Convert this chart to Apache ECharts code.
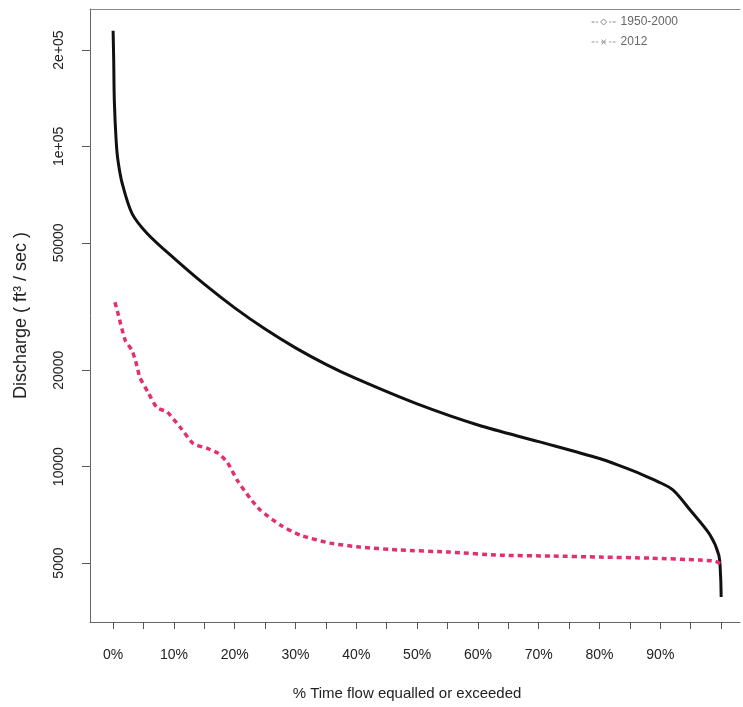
<!DOCTYPE html>
<html>
<head>
<meta charset="utf-8">
<script src="https://cdn.jsdelivr.net/npm/echarts@6/dist/echarts.min.js"></script>
<style>html,body{margin:0;padding:0;background:#fff}#c{width:743px;height:707px}</style>
</head>
<body>
<div id="c"></div>
<script>
// % time flow equalled or exceeded, discharge (ft3/sec)
const histPct = [0, 0.1, 0.2, 0.5, 0.8, 1.5, 3.1, 5.6, 10, 15, 20, 25, 30, 35, 40, 50, 60, 70, 80, 83.4, 87, 89.5, 92.1, 94.9, 98.2, 99.6, 99.9, 100];
const histQ = [229800, 185300, 139000, 104300, 90400, 76600, 61800, 53500, 44770, 37130, 31320, 26890, 23490, 20870, 18820, 15700, 13490, 11970, 10600, 10050, 9450, 9000, 8450, 7320, 6110, 5300, 4590, 3920];
const y2012Pct = [0.3, 0.8, 2.0, 3.1, 3.9, 4.4, 5.8, 7.2, 8.9, 11.0, 13.2, 15.5, 17.3, 18.8, 20.4, 22.5, 24.2, 27.5, 30.8, 35.7, 40.6, 47.2, 55.4, 63.7, 71.9, 80.1, 88.3, 96.5, 99.0, 100];
const y2012Q = [32600, 30100, 24800, 23100, 20700, 19000, 17000, 15300, 14800, 13300, 11800, 11400, 11000, 10300, 9080, 7980, 7320, 6570, 6110, 5770, 5610, 5490, 5410, 5290, 5260, 5220, 5180, 5110, 5070, 4970];
const xTicks = [0,5,10,15,20,25,30,35,40,45,50,55,60,65,70,75,80,85,90,95,100];
const xLabels = [0,10,20,30,40,50,60,70,80,90];
const yTicks = [5000, 10000, 20000, 50000, 100000, 200000];
const yLabelText = {5000:'5000',10000:'10000',20000:'20000',50000:'50000',100000:'1e+05',200000:'2e+05'};
const seriesNames = ['1950-2000', '2012'];

const histData = histPct.map((p,i)=>[p, histQ[i]]);
const d2012 = y2012Pct.map((p,i)=>[p, y2012Q[i]]);

const chart = echarts.init(document.getElementById('c'), null, {renderer:'canvas'});
const font = '"Liberation Sans", Arial, sans-serif';
const iconDiamond = 'path://M0,4L3,4M4.5,4L6.5,4M9,4L12,1L15,4L12,7ZM17.5,4L19.5,4M21,4L24,4';
const iconStar = 'path://M0,4L3,4M4.5,4L6.5,4M9.5,4L14.5,4M10,1.5L14,6.5M14,1.5L10,6.5M17.5,4L19.5,4M21,4L24,4';
chart.setOption({
  animation:false,
  backgroundColor:'#fff',
  textStyle:{fontFamily:font},
  grid:{left:90, right:3, top:9, bottom:85, containLabel:false},
  legend:{
    right:60, top:11, orient:'vertical', itemGap:8, itemWidth:24, itemHeight:8,
    textStyle:{color:'#666', fontSize:12, fontFamily:font},
    data:[
      {name:seriesNames[0], icon:iconDiamond, itemStyle:{color:'rgba(0,0,0,0)', borderColor:'#888', borderWidth:1}},
      {name:seriesNames[1], icon:iconStar, itemStyle:{color:'rgba(0,0,0,0)', borderColor:'#999', borderWidth:1}}
    ]
  },
  xAxis:[{
    type:'value', min:-3.8, max:103.1,
    axisLine:{show:true, onZero:false, lineStyle:{color:'#666', width:1}},
    axisTick:{show:true, length:7, customValues:xTicks, lineStyle:{color:'#555'}},
    axisLabel:{customValues:xLabels, formatter:v=>v+'%', color:'#222', fontSize:14, margin:26, fontFamily:font},
    splitLine:{show:false},
    name:'% Time flow equalled or exceeded', nameLocation:'middle', nameGap:64,
    nameTextStyle:{color:'#222', fontSize:15, fontFamily:font, padding:[0,16,0,0]}
  },{
    type:'value', position:'top', min:-3.8, max:103.1,
    axisLine:{show:true, onZero:false, lineStyle:{color:'#888', width:1}},
    axisTick:{show:false}, axisLabel:{show:false}, splitLine:{show:false}
  }],
  yAxis:{
    type:'log', min:3273, max:268600, logBase:10,
    axisLine:{show:true, onZero:false, lineStyle:{color:'#666', width:1}},
    axisTick:{show:true, length:8, customValues:yTicks, lineStyle:{color:'#555'}},
    axisLabel:{customValues:yTicks, formatter:v=>yLabelText[Math.round(v)]||String(v), rotate:90, color:'#222', fontSize:14, margin:24, fontFamily:font},
    splitLine:{show:false}, minorTick:{show:false},
    name:'Discharge ( ft³ / sec )', nameLocation:'middle', nameGap:60, nameRotate:90,
    nameTextStyle:{color:'#222', fontSize:18, fontFamily:font}
  },
  series:[
    {name:seriesNames[0], type:'line', data:histData, showSymbol:false, smooth:0.3,
     lineStyle:{color:'#111', width:3}, itemStyle:{color:'#111'}, z:3},
    {name:seriesNames[1], type:'line', data:d2012, showSymbol:false, smooth:0.2,
     lineStyle:{color:'#e3306a', width:3.5, type:[5,4]}, itemStyle:{color:'#e3306a'}, z:4}
  ]
});
</script>
</body>
</html>
